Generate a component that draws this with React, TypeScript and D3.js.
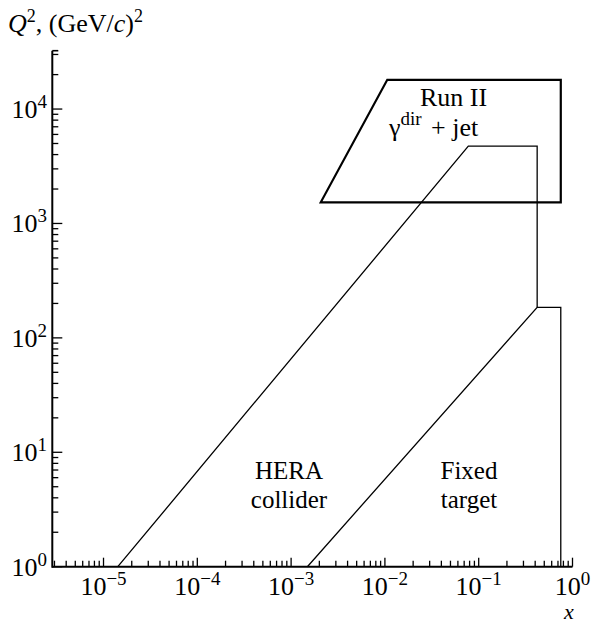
import React from "react";
import * as d3 from "d3";

// Kinematic regions in the (x, Q²) plane
const heraX = [1.42e-5, 0.0775, 0.42, 0.42];
const heraQ2 = [1, 4750, 4750, 185];

const fixedX = [0.00149, 0.42, 0.75, 0.75];
const fixedQ2 = [1, 185, 185, 1];

const runX = [0.0106, 0.75, 0.75, 0.00207];
const runQ2 = [18000, 18000, 1530, 1530];

// Axis decades that carry labels
const xExponents = [-5, -4, -3, -2, -1, 0];
const yExponents = [0, 1, 2, 3, 4];

const W = 593;
const H = 624;
const FONT = "Liberation Serif, DejaVu Serif, serif";
const ts = { fontFamily: FONT };

export default function App() {
  const x = d3.scaleLog().domain([Math.pow(10, -5.546), 1]).range([52.3, 572.5]);
  const y = d3.scaleLog().domain([1, Math.pow(10, 4.51)]).range([566.7, 50.7]);

  const [x0, x1] = x.range();
  const [y0, y1] = y.range();

  const xMinor: { v: number; major: boolean }[] = [];
  for (let e = -6; e <= 0; e++) {
    for (let m = 1; m <= 9; m++) {
      const v = m * Math.pow(10, e);
      if (v >= x.domain()[0] * 0.999 && v <= 1.0001) xMinor.push({ v, major: m === 1 });
    }
  }
  const yMinor: { v: number; major: boolean }[] = [];
  for (let e = 0; e <= 4; e++) {
    for (let m = 1; m <= 9; m++) {
      const v = m * Math.pow(10, e);
      if (v <= y.domain()[1]) yMinor.push({ v, major: m === 1 });
    }
  }

  const line = d3
    .line<[number, number]>()
    .x((d) => x(d[0]))
    .y((d) => y(d[1]));

  const heraPath = line(heraX.map((v, i) => [v, heraQ2[i]]));
  const fixedPath = line(fixedX.map((v, i) => [v, fixedQ2[i]]));
  const runPath = line(runX.map((v, i) => [v, runQ2[i]])) + "Z";

  return (
    <svg
      width={W}
      height={H}
      style={{ position: "absolute", left: 0, top: 0, background: "#fff", fontFamily: FONT }}
    >
      {/* axes */}
      <line x1={x0} x2={x0} y1={y0 + 1} y2={y1} stroke="#000" strokeWidth={2} />
      <line x1={x0} x2={x1} y1={y0} y2={y0} stroke="#000" strokeWidth={2} />
      <line x1={x0} x2={x0 + 6} y1={y1} y2={y1} stroke="#000" strokeWidth={1.6} />

      {xMinor.map((t, i) => (
        <line
          key={"xt" + i}
          x1={x(t.v)}
          x2={x(t.v)}
          y1={y0}
          y2={y0 - (t.major ? 9 : 6)}
          stroke="#000"
          strokeWidth={1.3}
        />
      ))}
      {yMinor.map((t, i) => (
        <line
          key={"yt" + i}
          x1={x0}
          x2={x0 + (t.major ? 10 : 6)}
          y1={y(t.v)}
          y2={y(t.v)}
          stroke="#000"
          strokeWidth={1.3}
        />
      ))}

      {xExponents.map((e) => (
        <text
          key={"xl" + e}
          x={x(Math.pow(10, e))}
          y={595}
          fontSize={26}
          textAnchor="middle"
          style={ts}
        >
          10
          <tspan fontSize={19} dy={-10}>
            {e < 0 ? "\u2212" + Math.abs(e) : e}
          </tspan>
        </text>
      ))}
      {yExponents.map((e) => (
        <text
          key={"yl" + e}
          x={47}
          y={y(Math.pow(10, e)) + 9}
          fontSize={26}
          textAnchor="end"
          style={ts}
        >
          10
          <tspan fontSize={19} dy={-10}>
            {e}
          </tspan>
        </text>
      ))}

      {/* axis titles */}
      <text x={8} y={32} fontSize={26} style={ts}>
        <tspan fontStyle="italic">Q</tspan>
        <tspan fontSize={18} dy={-10}>2</tspan>
        <tspan dy={10}>, (GeV/</tspan>
        <tspan fontStyle="italic">c</tspan>
        <tspan>)</tspan>
        <tspan fontSize={18} dy={-10}>2</tspan>
      </text>
      <text x={564} y={619} fontSize={22} fontStyle="italic" style={ts}>
        x
      </text>

      {/* regions */}
      <path d={heraPath ?? ""} fill="none" stroke="#000" strokeWidth={1.3} />
      <path d={fixedPath ?? ""} fill="none" stroke="#000" strokeWidth={1.3} />
      <path d={runPath} fill="none" stroke="#000" strokeWidth={2.2} strokeLinejoin="miter" />

      {/* region labels */}
      <text x={453.5} y={105.7} fontSize={26} textAnchor="middle" style={ts}>
        Run II
      </text>
      <text x={389} y={136} fontSize={26} style={ts}>
        γ
        <tspan fontSize={19} dy={-11}>dir</tspan>
        <tspan x={431} dy={11}>+ jet</tspan>
      </text>
      <text x={289} y={479} fontSize={25} textAnchor="middle" style={ts}>
        HERA
      </text>
      <text x={289} y={507.5} fontSize={25} textAnchor="middle" style={ts}>
        collider
      </text>
      <text x={469} y={479} fontSize={25} textAnchor="middle" style={ts}>
        Fixed
      </text>
      <text x={469} y={507.5} fontSize={25} textAnchor="middle" style={ts}>
        target
      </text>
    </svg>
  );
}
